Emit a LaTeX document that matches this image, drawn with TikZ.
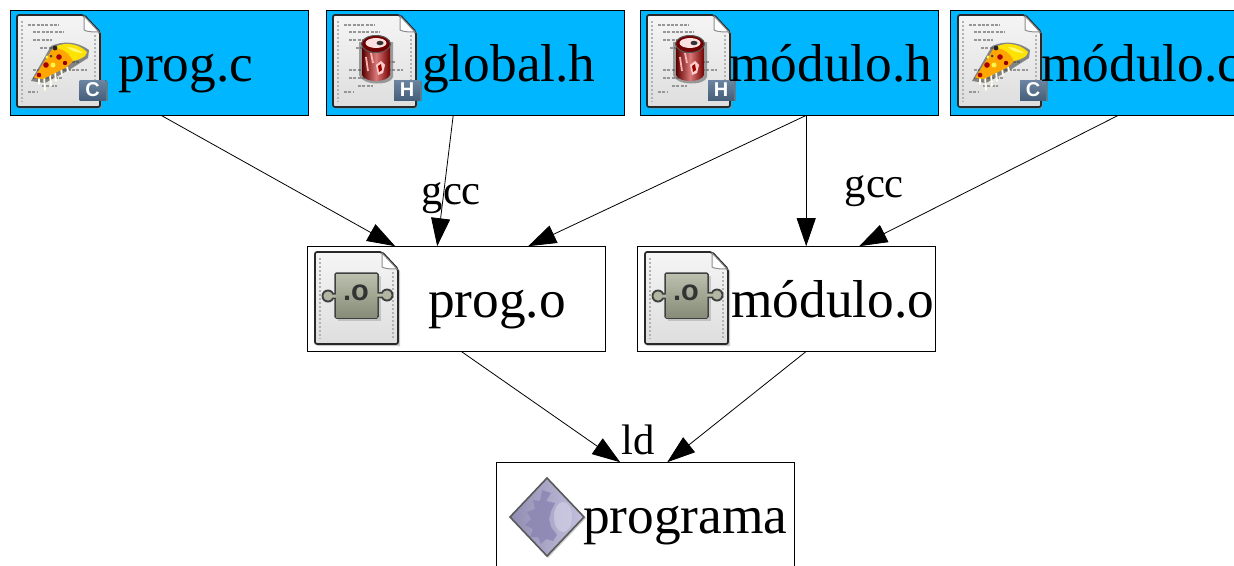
\documentclass[tikz,border=0pt]{standalone}
\usepackage{fontspec}
\setmainfont{Liberation Serif}
\newfontfamily\badgefont{Liberation Sans}
\usetikzlibrary{arrows.meta}
\definecolor{boxblue}{RGB}{0,183,255}
\definecolor{docedge}{RGB}{40,40,40}
\definecolor{codegray}{RGB}{150,150,150}
\definecolor{badgeblue}{RGB}{82,112,145}
\definecolor{puzzle}{RGB}{158,165,140}
\definecolor{lav}{RGB}{170,166,208}
\definecolor{lavdark}{RGB}{138,133,178}
\tikzset{
  x=1pt,y=-1pt,
  filebox/.style={draw=black,line width=0.9pt,rectangle,inner sep=0pt,outer sep=0pt,minimum width=298pt,minimum height=105.2pt},
  srcbox/.style={filebox,fill=boxblue},
  namelabel/.style={anchor=base west,inner sep=0pt,font=\fontsize{53.33}{60}\selectfont},
  toollabel/.style={anchor=base west,inner sep=0pt,font=\fontsize{42.67}{50}\selectfont},
  edge/.style={draw=black,line width=0.8pt,-{Triangle[length=28pt,width=19pt]}},
  coderow/.style={draw=codegray,line width=1.9pt,dash pattern=on 3pt off 1.3pt},
  pics/docbase/.style={code={
    \fill[black!45,opacity=.45] (2,2) -- (70,2) -- (85,19) -- (85,94) -- (2,94) -- cycle;
    \path[top color=white!96!black,bottom color=black!13,draw=docedge,line width=1.7pt,rounded corners=2pt]
      (0,0) -- (67,0) -- (83,17) -- (83,92) -- (0,92) -- cycle;
    \draw[black!30,line width=1.3pt,dash pattern=on 2pt off 2pt] (5,6) -- (5,87);
    \draw[black!30,line width=1.3pt,dash pattern=on 2pt off 2pt] (78,20) -- (78,87);
    \path[fill=white,draw=black!45,line width=1pt] (67,1) -- (67,15) .. controls (70,17) and (78,17) .. (82,17) -- cycle;
  }},
  pics/coderows/.style={code={
    \draw[coderow] (11,10) -- (42,10);
    \draw[coderow] (16,17) -- (47,17);
    \draw[coderow] (16,25) -- (35,25);
    \draw[coderow] (23,33) -- (40,33);
    \draw[coderow] (42,47) -- (62,47);
    \draw[coderow] (42,55) -- (70,55);
    \draw[coderow] (16,55) -- (30,55);
    \draw[coderow] (16,63) -- (45,63);
    \draw[coderow] (25,71) -- (40,71);
    \draw[coderow] (11,77) -- (20,77);
  }},
  pics/badge/.style={code={
    \fill[black!55,opacity=.8] (1,1) rectangle (28,21);
    \fill[top color=badgeblue!85!white,bottom color=badgeblue!85!black] (0,0) rectangle (26,20);
    \node[inner sep=0pt,text=white,font=\badgefont\bfseries\fontsize{20}{20}\selectfont] at (13,10) {#1};
  }},
  pics/pizza/.style={code={
    \fill[black!75,opacity=.6] (14,66) -- (34,31) .. controls (45,26) and (60,26) .. (72,35) -- (71,43) -- (52,55) -- (28,68) -- cycle;
    \draw[white!92!yellow,line width=1.8pt,line cap=round]
      (22,62) -- (22,69) (27,62) -- (28,75) (33,59) -- (34,71) (38,57) -- (39,66) (44,54) -- (45,60) (50,52) -- (51,56);
    \fill[orange!70!yellow] (17,63) -- (36,33) .. controls (46,30) and (52,36) .. (56,46) -- (50,52) -- (26,64) -- cycle;
    \fill[yellow!85!orange] (36,33) .. controls (45,27) and (60,27) .. (70,37) -- (68,41)
      .. controls (64,44) and (60,45) .. (56,46) .. controls (52,38) and (46,33) .. (36,33) -- cycle;
    \fill[yellow!55!white] (50,32) .. controls (56,32) and (62,35) .. (66,38) .. controls (60,38) and (54,36) .. (50,32) -- cycle;
    \fill[red!65!black] (29,50) circle (2.8);
    \fill[red!65!black] (42,42) circle (2.8);
    \fill[black!85] (38,33) circle (2.4);
    \fill[red!65!black] (22,60) circle (2.3);
    \fill[red!55!black] (48,48) circle (2.2);
    \fill[black!75] (34,41) circle (1.5);
    \fill[yellow!70!white] (36,50) circle (2.5);
    \fill[yellow!70!white] (30,42) circle (1.6);
  }},
  pics/can/.style={code={
    \fill[black!65,opacity=.55] (26,27) -- (26,60) .. controls (29,71) and (58,71) .. (60,62) -- (60,27) -- cycle;
    \shade[left color=red!35!black,right color=red!45!black,middle color=red!45!white!85!black]
      (29,30) -- (29,60) .. controls (32,68) and (54,68) .. (57,60) -- (57,28) -- cycle;
    \fill[white!80!red] (43,50) -- (48,46) -- (52,50) -- (50,58) -- (45,60) -- cycle;
    \fill[red!60!black] (45,51) -- (48,49) -- (49,55) -- (46,57) -- cycle;
    \draw[white!70!red,line width=1.8pt] (33,42) -- (35,56) (38,38) -- (40,48);
    \fill[red!45!black] (43,29) ellipse (14.5 and 8.5);
    \fill[white!88!red] (43,28) ellipse (10.5 and 5);
    \fill[black!80] (47,28) ellipse (3.5 and 2.2);
    \draw[black!65,line width=1pt] (43,29) ellipse (14.5 and 8.5);
  }},
  pics/objicon/.style={code={
    \fill[black!40,opacity=.45] (23,24) rectangle (66,69);
    \fill[black!75] (13,44) circle (6.5) (72,43) circle (6.5);
    \fill[black!75] (13,41) rectangle (24,47) (62,40) rectangle (72,46);
    \path[fill=puzzle,draw=black!75,line width=1.5pt,rounded corners=1.5pt] (20,21) rectangle (63,66);
    \fill[puzzle!80!white] (13,44) circle (4.6) (72,43) circle (4.6);
    \fill[puzzle!80!white] (13,42.5) rectangle (22,45.5) (62,41.5) rectangle (72,44.5);
    \fill[top color=puzzle!70!white,bottom color=puzzle!85!black] (21,22) rectangle (62,65);
    \node[inner sep=0pt,font=\badgefont\bfseries\fontsize{29}{29}\selectfont,text=black!80] at (41,41) {.o};
  }},
  pics/execicon/.style={code={
    \fill[black!40,opacity=.5] (1,-37) -- (39,1) -- (1,41) -- (-36,1) -- cycle;
    \path[left color=lav!85!black,right color=lav!70!white,draw=black!65,line width=1.6pt]
      (0,-39) -- (37,0) -- (0,39) -- (-37,0) -- cycle;
    \fill[lavdark,opacity=.8] (-5,-27) -- (4,-24) -- (-1,-16) -- (8,-14) -- (4,-6) -- (2,2) -- (4,10) -- (10,18) -- (6,24) -- (-1,22)
      -- (-6,27) -- (-9,20) -- (-17,20) -- (-14,12) -- (-22,8) -- (-16,2) -- (-20,-5) -- (-12,-8) -- (-14,-17) -- (-7,-16) -- cycle;
    \fill[lav!55!white,opacity=.7] (16,0) ellipse (9 and 15);
  }}
}
\begin{document}
\begin{tikzpicture}
\clip (0,0) rectangle (1234,565);
\fill[white] (0,0) rectangle (1234,565);
% boxes
\node[srcbox] (progc) at (159.2,62.8) {};
\node[srcbox] (globalh) at (475.2,62.8) {};
\node[srcbox] (moduloh) at (789.2,62.8) {};
\node[srcbox] (moduloc) at (1099.2,62.8) {};
\node[filebox] (progo) at (456.2,298.8) {};
\node[filebox] (moduloo) at (786.2,298.8) {};
\node[filebox] (programa) at (645.2,514.8) {};
% icons
\pic at (17,15) {docbase};
\pic at (17,15) {coderows};
\pic at (17,15) {pizza};
\pic at (79.5,80) {badge=C};
\pic at (333,15) {docbase};
\pic at (333,15) {coderows};
\pic at (333,15) {can};
\pic at (394,80) {badge=H};
\pic at (647,15) {docbase};
\pic at (647,15) {coderows};
\pic at (647,15) {can};
\pic at (708,80) {badge=H};
\pic at (958,15) {docbase};
\pic at (958,15) {coderows};
\pic at (958,15) {pizza};
\pic at (1020,80) {badge=C};
\pic at (315,252) {docbase};
\pic at (315,252) {objicon};
\pic at (645,252) {docbase};
\pic at (645,252) {objicon};
\pic at (547,517) {execicon};
% names
\node[namelabel] (tprogc) at (118.3,81) {prog.c};
\node[namelabel] (tglobalh) at (422,81) {global.h};
\node[namelabel] (tmoduloh) at (729,81) {módulo.h};
\node[namelabel] (tmoduloc) at (1041,81) {módulo.c};
\node[namelabel] (tprogo) at (428,317) {prog.o};
\node[namelabel] (tmoduloo) at (731,317) {módulo.o};
\node[namelabel] (tprograma) at (583,533) {programa};
% connectors
\draw[edge] ([xshift=2pt]progc.south) -- ([xshift=-61pt]progo.north);
\draw[edge] ([xshift=-22pt]globalh.south) -- ([xshift=-19pt]progo.north);
\draw[edge] ([xshift=17pt]moduloh.south) -- ([xshift=72pt]progo.north);
\draw[edge] ([xshift=17pt]moduloh.south) -- ([xshift=20pt]moduloo.north);
\draw[edge] ([xshift=19pt]moduloc.south) -- ([xshift=73pt]moduloo.north);
\draw[edge] ([xshift=5pt]progo.south) -- ([xshift=-25pt]programa.north);
\draw[edge] ([xshift=20pt]moduloo.south) -- ([xshift=22pt]programa.north);
% tool labels
\node[toollabel] (gcca) at (421.5,204) {gcc};
\node[toollabel] (gccb) at (844.5,197) {gcc};
\node[toollabel] (ldl) at (621.5,454) {ld};
\end{tikzpicture}
\end{document}
